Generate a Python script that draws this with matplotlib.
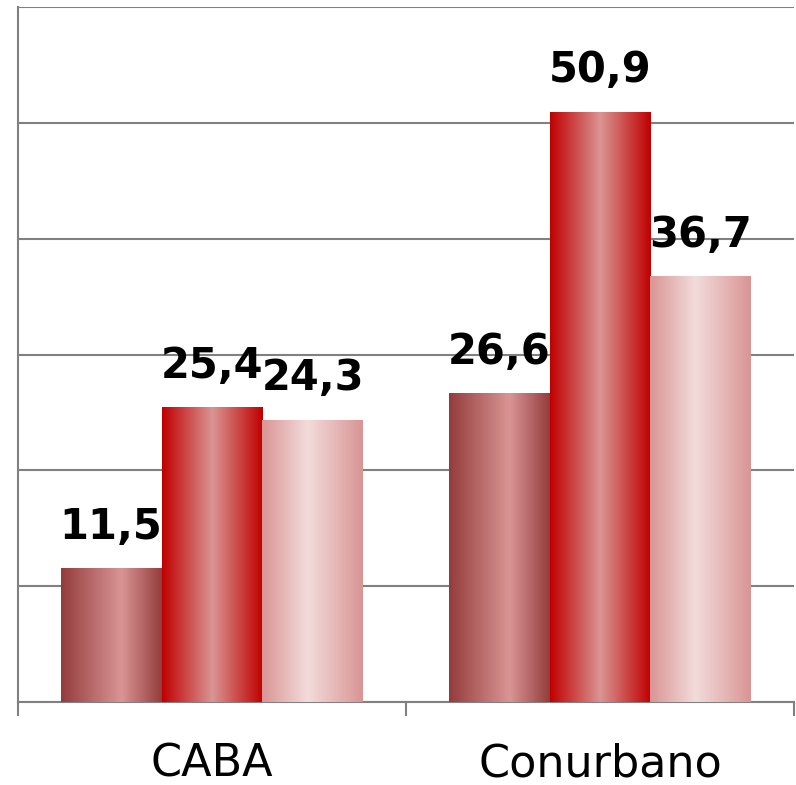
import numpy as np
import matplotlib.pyplot as plt
from matplotlib.colors import LinearSegmentedColormap

# --- data ---
categories = ["CABA", "Conurbano"]
serie_1 = [11.5, 26.6]
serie_2 = [25.4, 50.9]
serie_3 = [24.3, 36.7]
y_max = 60
y_step = 10

# gradient for each series (left edge -> highlight -> right edge)
gradients = [
    [(0.0, "#943c3c"), (0.6, "#d99594"), (1.0, "#943c3c")],
    [(0.0, "#c00000"), (0.5, "#d99594"), (1.0, "#c00000")],
    [(0.0, "#d99594"), (0.45, "#f2dcdb"), (1.0, "#d99594")],
]

fig = plt.figure(figsize=(7.96, 7.85), dpi=100)
ax = fig.add_axes([18 / 796, 83 / 785, 776 / 796, 695 / 785])

x = np.arange(len(categories))
width = 0.26
offsets = [-width, 0, width]
grid_col = "#808080"

for vals, off, grad in zip([serie_1, serie_2, serie_3], offsets, gradients):
    bars = ax.bar(x + off, vals, width, color="none", zorder=3)
    cmap = LinearSegmentedColormap.from_list("g", grad)
    shade = np.linspace(0, 1, 256).reshape(1, -1)
    for b, v in zip(bars, vals):
        x0, y0 = b.get_x(), b.get_y()
        ax.imshow(shade, cmap=cmap, aspect="auto", zorder=3,
                  extent=[x0, x0 + b.get_width(), y0, y0 + b.get_height()])
        ax.text(x0 + b.get_width() / 2, v + 2.6, f"{v:.1f}".replace(".", ","),
                ha="center", va="baseline", fontsize=30, fontweight="bold",
                family="DejaVu Sans", zorder=4)

ax.set_xlim(-0.5, len(categories) - 0.5)
ax.set_ylim(0, y_max)
ax.set_yticks(np.arange(0, y_max + 1, y_step))
ax.set_yticklabels([])
ax.tick_params(axis="y", length=0)
ax.grid(axis="y", color=grid_col, linewidth=1.5, zorder=0)

# category labels, baseline placed below the axis
ax.set_xticks(x)
ax.set_xticklabels([])
ax.tick_params(axis="x", which="major", length=0)
for xi, cat in zip(x, categories):
    ax.text(xi, -0.1075, cat, transform=ax.get_xaxis_transform(),
            ha="center", va="baseline", fontsize=32, family="DejaVu Sans")
ax.set_xticks(np.arange(-0.5, len(categories), 1), minor=True)
ax.tick_params(axis="x", which="minor", length=10, width=1.5, color=grid_col)

for side in ["top", "right"]:
    ax.spines[side].set_visible(False)
for side in ["left", "bottom"]:
    ax.spines[side].set_color(grid_col)
    ax.spines[side].set_linewidth(1.5)

fig.savefig("out.png", dpi=100)
